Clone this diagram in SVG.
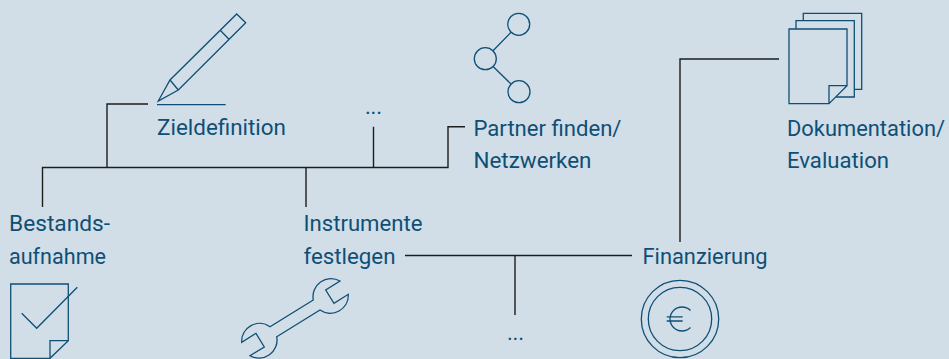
<svg xmlns="http://www.w3.org/2000/svg" width="949" height="359" viewBox="0 0 949 359">
<style>
.c{fill:none;stroke:#1d1d1b;stroke-width:1.4}
.i{fill:none;stroke:#0f4f75;stroke-width:1.3;stroke-linejoin:miter}
.t{font-family:Roboto,"Liberation Sans",sans-serif;font-size:22px;fill:#0f4f75}
</style>
<rect width="949" height="359" fill="#d1dee8"/>
<g id="connectors">
<path class="c" d="M42.500 207V167.500H448V126.700H465M107 167.500V104H148M373.500 167.500V126.700M306 167.500V207"/>
<path class="c" d="M405 255.500H632M515 255.500V315M680 242V59H779"/>
</g>
<g id="zieldefinition">
<path class="i" d="M158.300 101L170 80L236.700 14L245.700 22.700L178.300 90ZM170 80L178.300 90M220.700 30.700L229 39.300"/>
<path class="i" d="M157 104.700H225.700"/>
<text class="t" x="157" y="135" textLength="129" lengthAdjust="spacingAndGlyphs">Zieldefinition</text>
</g>
<g id="ellipsis-top"><text class="t" x="365" y="114" textLength="17">...</text></g>
<g id="partner">
<circle class="i" cx="518.700" cy="24.300" r="11"/>
<circle class="i" cx="485.300" cy="58.700" r="11"/>
<circle class="i" cx="519" cy="91.700" r="11"/>
<path class="i" d="M511 32.300L493 50.700M493.300 66.700L511 84"/>
<text class="t" x="473.500" y="135.500" textLength="148" lengthAdjust="spacingAndGlyphs">Partner finden/</text>
<text class="t" x="473.500" y="168" textLength="118" lengthAdjust="spacingAndGlyphs">Netzwerken</text>
</g>
<g id="dokumentation">
<path class="i" d="M789 29H847V85.700L829 103.700H789ZM829 103.700V85.700H847"/>
<path class="i" d="M796 29V20.700H854.300V97H836"/>
<path class="i" d="M803.300 20.700V13.300H861.700V89.300H854.300"/>
<text class="t" x="787" y="135.500" textLength="158" lengthAdjust="spacingAndGlyphs">Dokumentation/</text>
<text class="t" x="787" y="168" textLength="102" lengthAdjust="spacingAndGlyphs">Evaluation</text>
</g>
<g id="bestandsaufnahme">
<text class="t" x="9" y="231" textLength="101" lengthAdjust="spacingAndGlyphs">Bestands-</text>
<text class="t" x="9" y="263.500" textLength="97" lengthAdjust="spacingAndGlyphs">aufnahme</text>
<path class="i" d="M68.300 310V284H10.700V358.300H50L68.300 340.700V300M50 358.300V340.700H68.300"/>
<path class="i" d="M21.700 313.300L36.700 328.300L77.300 287.300"/>
</g>
<g id="instrumente">
<text class="t" x="303.500" y="231" textLength="119" lengthAdjust="spacingAndGlyphs">Instrumente</text>
<text class="t" x="303.500" y="263.500" textLength="92" lengthAdjust="spacingAndGlyphs">festlegen</text>
<path class="i" d="M313.300 300A18 18 0 0 1 340 281L325.700 290L334 303.300L348.300 294.300A18 18 0 0 1 320 310L276.700 336.700A18 18 0 0 1 250 355.700L264.300 347L256 333.300L241.700 342.300A18 18 0 0 1 270 326.700Z"/>
</g>
<g id="ellipsis-bottom"><text class="t" x="507" y="340" textLength="17">...</text></g>
<g id="finanzierung">
<text class="t" x="642.500" y="264" textLength="125" lengthAdjust="spacingAndGlyphs">Finanzierung</text>
<circle class="i" cx="680" cy="319" r="38.700"/>
<circle class="i" cx="680" cy="319" r="31.700"/>
<path class="i" d="M690.500 310.500A12 12 0 1 0 690.500 327.500M666.700 316.800H682.700M666.700 321H682.700"/>
</g>
</svg>
